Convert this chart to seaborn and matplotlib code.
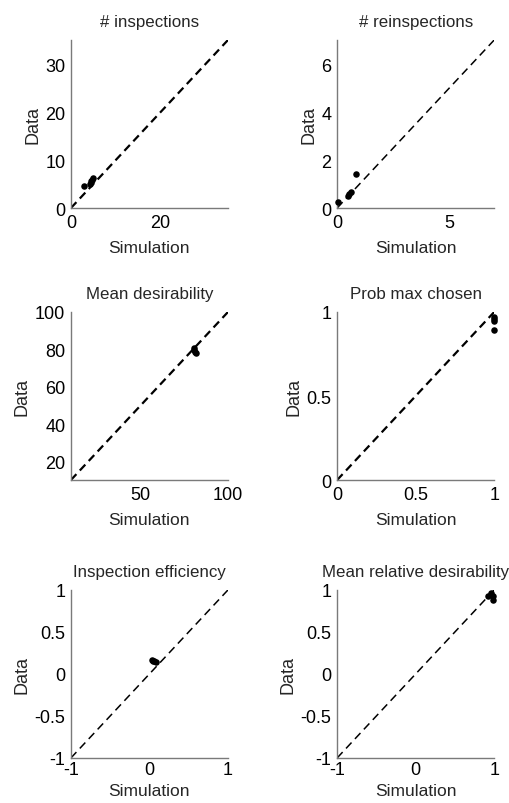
import matplotlib
matplotlib.use("Agg")
import matplotlib.pyplot as plt
import matplotlib.ticker as mticker
import seaborn as sns
import pandas as pd

sns.set_theme(style="white")
plt.rcParams["font.family"] = ["Liberation Sans", "DejaVu Sans"]

# Panel titles
titles = ["# inspections", "# reinspections", "Mean desirability",
          "Prob max chosen", "Inspection efficiency", "Mean relative desirability"]

# Simulated vs observed values per panel
insp_sim = [3.0, 4.2, 4.5, 4.7, 4.9]
insp_data = [4.6, 5.1, 5.6, 5.9, 6.2]
reinsp_sim = [0.04, 0.48, 0.55, 0.63, 0.86]
reinsp_data = [0.25, 0.50, 0.58, 0.67, 1.40]
desir_sim = [80.3, 80.8, 81.2, 81.6]
desir_data = [80.6, 79.6, 78.8, 77.8]
pmax_sim = [1.0, 1.0, 1.0, 1.0]
pmax_data = [0.97, 0.96, 0.945, 0.895]
eff_sim = [0.03, 0.05, 0.06, 0.08]
eff_data = [0.17, 0.15, 0.16, 0.14]
reldes_sim = [0.92, 0.96, 0.99, 0.98]
reldes_data = [0.93, 0.96, 0.93, 0.88]

# Axis ranges and ticks per panel
limits = [(0, 35), (0, 7), (10, 100), (0, 1), (-1, 1), (-1, 1)]
xticks = [[0, 20], [0, 5], [50, 100], [0, 0.5, 1], [-1, 0, 1], [-1, 0, 1]]
yticks = [[0, 10, 20, 30], [0, 2, 4, 6], [20, 40, 60, 80, 100], [0, 0.5, 1],
          [-1, -0.5, 0, 0.5, 1], [-1, -0.5, 0, 0.5, 1]]
diag_lw = [1.6, 1.1, 1.6, 1.6, 1.1, 1.1]

sims = [insp_sim, reinsp_sim, desir_sim, pmax_sim, eff_sim, reldes_sim]
datas = [insp_data, reinsp_data, desir_data, pmax_data, eff_data, reldes_data]

fig = plt.figure(figsize=(5.10, 8.04), dpi=100)
lefts = [0.139, 0.661]
bottoms = [0.740, 0.4017, 0.056]
w, h = 0.308, 0.209

fmt = mticker.FuncFormatter(lambda v, p: f"{v:g}")

for i in range(6):
    r, c = divmod(i, 2)
    ax = fig.add_axes([lefts[c], bottoms[r], w, h])
    lo, hi = limits[i]
    lw = diag_lw[i]
    diag = pd.DataFrame({"Simulation": [lo, hi], "Data": [lo, hi]})
    sns.lineplot(data=diag, x="Simulation", y="Data", ax=ax, color="black",
                 lw=lw, linestyle=(0, (5.8 / lw, 3.6 / lw)))
    pts = pd.DataFrame({"Simulation": sims[i], "Data": datas[i]})
    sns.scatterplot(data=pts, x="Simulation", y="Data", ax=ax, color="black",
                    s=22, edgecolor="black", linewidth=0, clip_on=False, zorder=5)
    ax.set_xlim(lo, hi)
    ax.set_ylim(lo, hi)
    ax.set_xticks(xticks[i])
    ax.set_yticks(yticks[i])
    ax.xaxis.set_major_formatter(fmt)
    ax.yaxis.set_major_formatter(fmt)
    for s in ["top", "right"]:
        ax.spines[s].set_visible(False)
    for s in ["left", "bottom"]:
        ax.spines[s].set_color("#7a7a7a")
        ax.spines[s].set_linewidth(1.0)
    last_row = r == 2
    ax.tick_params(direction="in", length=3, width=0.8, color="#7a7a7a",
                   labelsize=13, labelcolor="black", pad=4)
    if last_row:
        ax.tick_params(axis="x", pad=2)
    ax.set_title(titles[i], fontsize=12.2, pad=10)
    ax.set_xlabel("Simulation", fontsize=12.5, labelpad=4 if last_row else 7)
    ax.set_ylabel("Data", fontsize=13, labelpad=3)

fig.savefig("out.png", dpi=100, facecolor="white")
